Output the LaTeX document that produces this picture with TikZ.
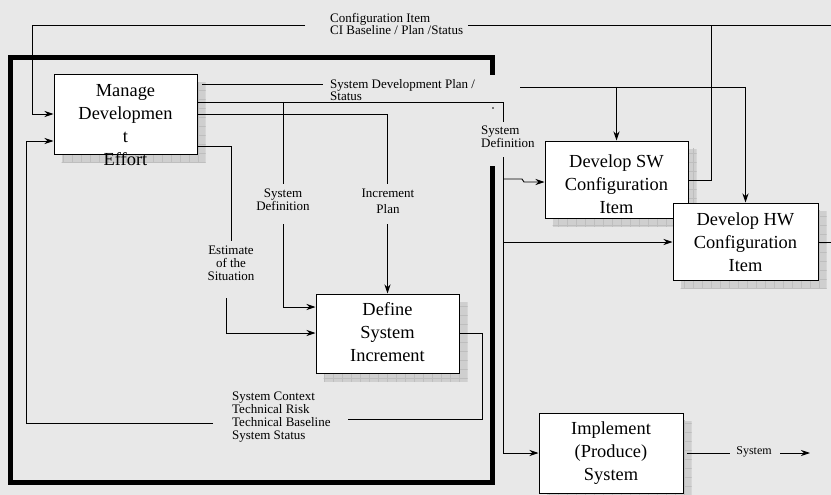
\documentclass[tikz,border=0pt]{standalone}
\usepackage{fontspec}
\setmainfont{Liberation Serif}
\usetikzlibrary{arrows.meta}
\pgfdeclarelayer{bg}
\pgfsetlayers{bg,main}
\definecolor{bgc}{RGB}{232,232,232}
\definecolor{shc}{RGB}{207,207,207}
\definecolor{grc}{RGB}{190,190,190}
\tikzset{
 box/.style={draw, fill=white, line width=1pt, inner sep=0pt},
 boxtext/.style={align=center, font=\fontsize{18.4}{23}\selectfont, inner sep=0pt},
 lab/.style={align=center, font=\fontsize{13}{13}\selectfont, inner sep=0pt},
 labl/.style={align=left, font=\fontsize{13}{12.5}\selectfont, inner sep=0pt},
 wire/.style={line width=0.9pt},
 arr/.style={wire, -{Stealth[length=9pt,width=6pt,inset=3pt]}},
 frame/.style={line width=5pt, line join=miter}
}
\newcommand\dropshade[1]{%
 \begin{scope}
 \clip ([shift={(8,8)}]#1.south west) rectangle ([shift={(8,8)}]#1.north east);
 \fill[shc] ([shift={(8,8)}]#1.south west) rectangle ([shift={(8,8)}]#1.north east);
 \draw[grc, line width=0.4pt, step=9pt] ([shift={(0,20)}]#1.south west) grid ([shift={(20,0)}]#1.north east);
 \end{scope}}
\begin{document}
\begin{tikzpicture}[x=1pt,y=-1pt]
\useasboundingbox (0,0) rectangle (831,495);

% boxes
\node[box, minimum width=143pt, minimum height=79pt] (mde) at (125.5,114.5) {};
\node[box, minimum width=143pt, minimum height=79pt] (def) at (387.5,333.5) {};
\node[box, minimum width=143pt, minimum height=77pt] (sw) at (616.5,179.5) {};
\node[box, minimum width=145pt, minimum height=77pt] (hw) at (745.5,241.5) {};
\node[box, minimum width=144pt, minimum height=80pt] (imp) at (611,453) {};

\begin{pgfonlayer}{bg}
 \fill[bgc] (0,0) rectangle (831,495);
 \dropshade{mde}
 \dropshade{def}
 \dropshade{sw}
 \dropshade{hw}
 \dropshade{imp}
\end{pgfonlayer}

% box texts
\node[boxtext] (mdet) at (125.5,125) {Manage\\Developmen\\t\\Effort};
\node[boxtext] (deft) at (387.5,332) {Define\\System\\Increment};
\node[boxtext] (swt) at (616.5,184) {Develop SW\\Configuration\\Item};
\node[boxtext] (hwt) at (745.5,242) {Develop HW\\Configuration\\Item};
\node[boxtext] (impt) at (611,453) {Implement\\(Produce)\\System};

% frame
\draw[frame] (492,75) -- (492,58) -- (10,58) -- (10,482) -- (492,482) -- (492,166);

% labels
\node[labl, anchor=west] (cil) at (330,24) {Configuration Item\\CI Baseline / Plan /Status};
\node[labl, anchor=west] (sdp) at (330,90) {System Development Plan /\\Status};
\node[labl, anchor=west] (sdr) at (481,137) {System\\Definition};
\node[lab] (sdl) at (283,200) {System\\Definition};
\node[lab, font=\fontsize{13}{16}\selectfont] (inc) at (388,201) {Increment\\Plan};
\node[lab] (est) at (231,263) {Estimate\\of the\\Situation};
\node[labl, anchor=west, font=\fontsize{13}{13}\selectfont] (ctx) at (232,417.5) {System Context\\Technical Risk\\Technical Baseline\\System Status};
\node[lab, font=\fontsize{12}{12}\selectfont] (sysl) at (754,452) {System};
\fill (493,108) circle (0.8);

% CI line
\draw[arr] (305,25) -- (32,25) -- (32,114) -- (mde.west |- 0,114);
\draw[wire] (831,25) -- (468,25);
\draw[wire] (sw.east |- 0,180) -- (711,180) -- (711,25);

% system development plan
\draw[wire] (202,84) -- (323,84);
\draw[wire] (520,87) -- (745.5,87);
\draw[arr] (745.5,87) -- (hw.north);
\draw[arr] (616.5,87) -- (sw.north);

% system definition
\draw[wire] (mde.east |- 0,102) -- (503,102) -- (503,122);
\draw[wire] (283,102) -- (283,184);
\draw[arr] (283,224) -- (283,307) -- (def.west |- 0,307);
\draw[arr] (503,157) -- (503,453) -- (imp.west |- 0,453);
\draw[arr] (503,179) -- (522,179) -- (524,182) -- (sw.west |- 0,182);
\draw[arr] (503,242) -- (hw.west |- 0,242);

% increment plan
\draw[wire] (mde.east |- 0,114) -- (387.5,114) -- (387.5,184);
\draw[arr] (387.5,224) -- (def.north);

% estimate
\draw[wire] (mde.east |- 0,146) -- (231,146) -- (231,241);
\draw[arr] (226,298) -- (226,333) -- (def.west |- 0,333);

% define output
\draw[wire] (def.east |- 0,333) -- (482,333) -- (482,419) -- (348,419);
\draw[arr] (213,423) -- (26,423) -- (26,141) -- (mde.west |- 0,141);

% HW output
\draw[wire] (hw.east |- 0,242) -- (831,242);

% implement output
\draw[wire] (687,453) -- (730,453);
\draw[arr] (780,453) -- (810,453);
\end{tikzpicture}
\end{document}
